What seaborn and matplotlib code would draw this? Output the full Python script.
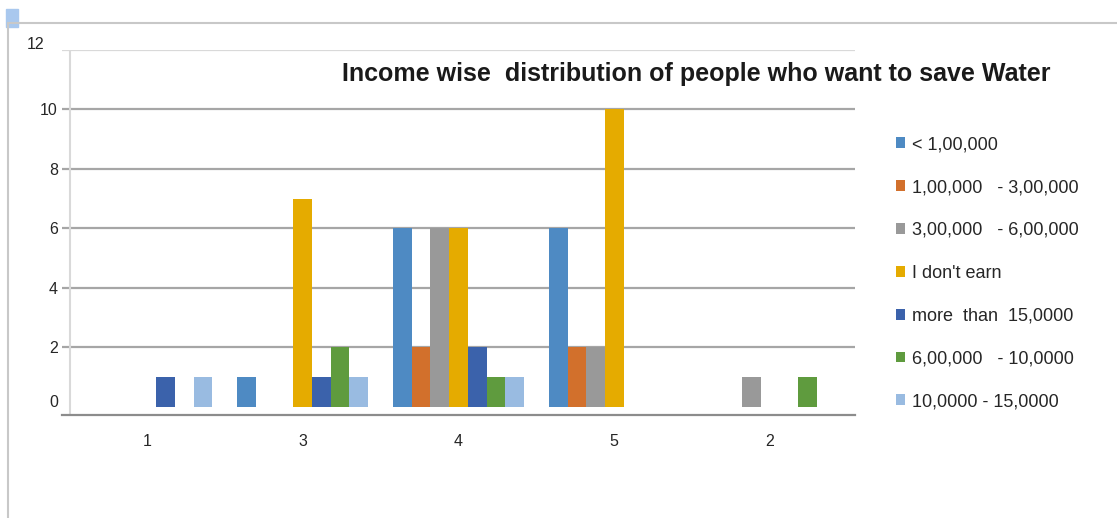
import pandas as pd
import numpy as np
from matplotlib import pyplot as plt
from matplotlib.lines import Line2D
from matplotlib.patches import Rectangle
from matplotlib.transforms import ScaledTranslation
import seaborn as sns

sns.set_style('white')
plt.rcParams['font.family'] = ['Liberation Sans', 'DejaVu Sans']

ratings = ['1', '3', '4', '5', '2']
incomes = ['< 1,00,000', '1,00,000   - 3,00,000', '3,00,000   - 6,00,000', "I don't earn",
           'more  than  15,0000', '6,00,000   - 10,0000', '10,0000 - 15,0000']
lt_1l = [0, 1, 6, 6, 0]
l1_3l = [0, 0, 2, 2, 0]
l3_6l = [0, 0, 6, 2, 1]
no_earn = [0, 7, 6, 10, 0]
more_15 = [1, 1, 2, 0, 0]
l6_10 = [0, 2, 1, 0, 1]
l10_15 = [1, 1, 1, 0, 0]
colors = ['#4e8ac3', '#d2702c', '#999999', '#e5ab00', '#3b62ab', '#5f9b3e', '#99bbe1']

series = [lt_1l, l1_3l, l3_6l, no_earn, more_15, l6_10, l10_15]
df = pd.DataFrame({
    'rating': ratings * len(incomes),
    'income': np.repeat(incomes, len(ratings)),
    'count': np.concatenate(series),
})

fig = plt.figure(figsize=(11.17, 5.18), dpi=100)
ax = fig.add_axes([62/1117, 1 - 415/518, (855-62)/1117, 365/518])

sns.barplot(data=df, x='rating', y='count', hue='income', order=ratings, hue_order=incomes,
            palette=colors, width=0.84, gap=0, linewidth=0, saturation=1, ax=ax, legend=True)

ax.set_xlim(-0.546, 4.546)
ax.set_ylim(-0.27, 12)
ax.set_yticks(range(0, 13, 2))
ax.set_xlabel('')
ax.set_ylabel('')
for y in range(2, 12, 2):
    ax.axhline(y, color='#a6a6a6', lw=1.6, zorder=0)
ax.axhline(12, color='#d9d9d9', lw=1.6, zorder=0)
ax.axvline(-0.494, color='#d9d9d9', lw=1.5, zorder=0)
for s in ['top', 'right', 'left']:
    ax.spines[s].set_visible(False)
ax.spines['bottom'].set_color('#8c8c8c')
ax.spines['bottom'].set_linewidth(1.6)
ax.tick_params(axis='x', length=0, labelsize=11.5, pad=14)
ax.tick_params(axis='y', length=0, labelsize=11.5, pad=3)

# the "12" label sits up and to the left in the original, "0" a bit higher
ylbls = ax.get_yticklabels()
ylbls[-1].set_transform(ylbls[-1].get_transform() + ScaledTranslation(-13/100, 7/100, fig.dpi_scale_trans))
ylbls[0].set_transform(ylbls[0].get_transform() + ScaledTranslation(0, 6/100, fig.dpi_scale_trans))

ax.text(0.8, 0.935, 'Income wise  distribution of people who want to save Water',
        transform=ax.transAxes, ha='center', va='center', fontsize=18, fontweight='bold',
        color='#1a1a1a')

handles, labels = ax.get_legend_handles_labels()
ax.get_legend().remove()
fig.legend(handles, labels, loc='upper left', bbox_to_anchor=(880/1117, 1 - 120/518),
           frameon=False, fontsize=13, handlelength=0.5, handleheight=0.55,
           handletextpad=0.4, labelspacing=1.43)

# embedded chart frame
fig.add_artist(Line2D([8/1117, 1], [1 - 23/518, 1 - 23/518], color='#c8c8c8', lw=1.5))
fig.add_artist(Line2D([8/1117, 8/1117], [0, 1 - 23/518], color='#c8c8c8', lw=1.5))
fig.add_artist(Rectangle((6/1117, 1 - 27/518), 12/1117, 18/518, color='#a9c8ee'))

fig.savefig('out.png', dpi=100)
